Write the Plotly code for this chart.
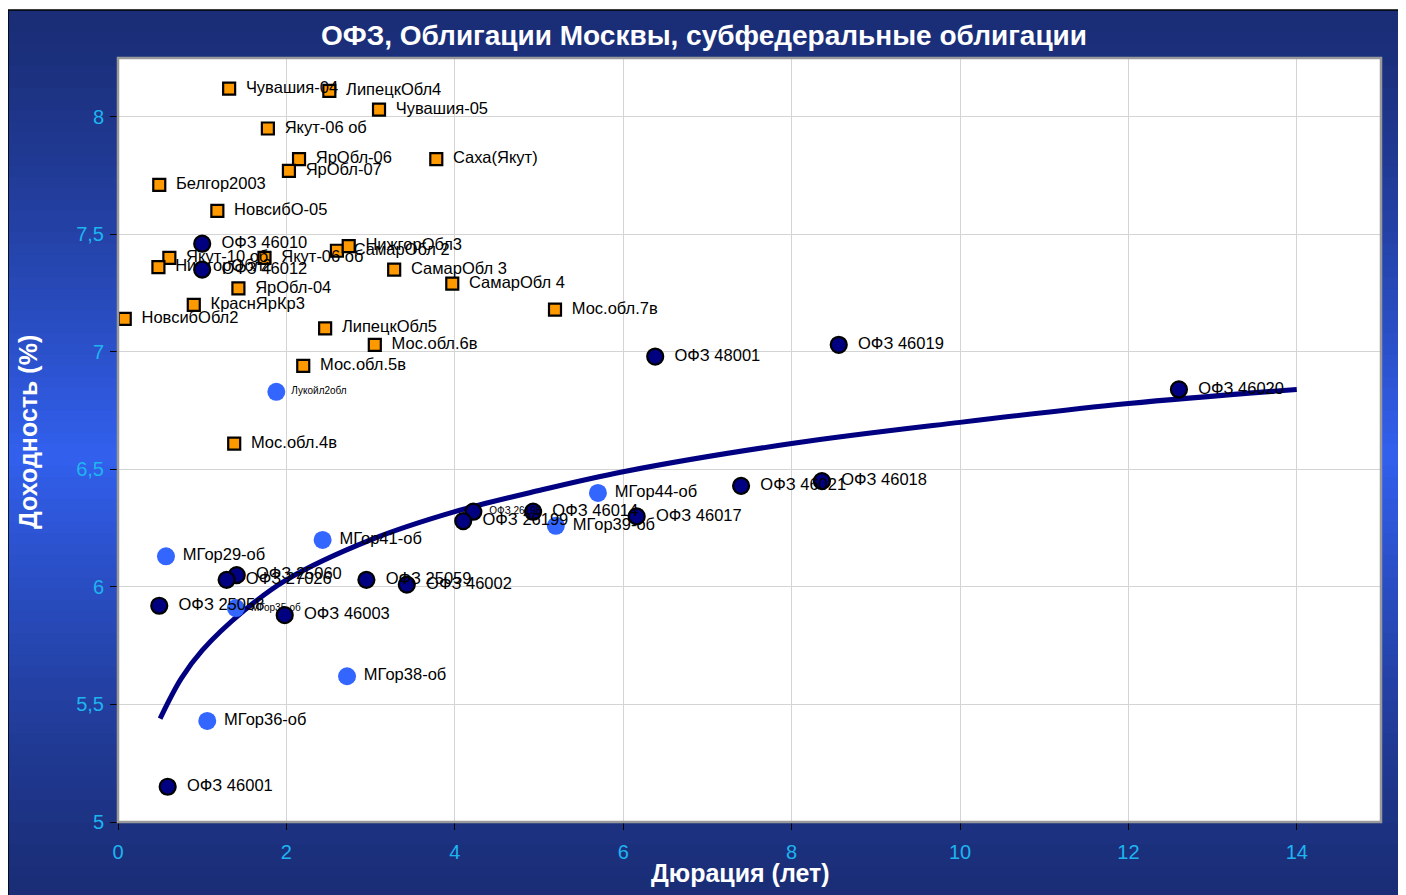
import plotly.graph_objects as go

# ---------------- data ----------------
sub_names = ["Чувашия-04", "ЛипецкОбл4", "Чувашия-05", "Якут-06 об", "ЯрОбл-06", "ЯрОбл-07",
             "Саха(Якут)", "Белгор2003", "НовсибО-05", "Якут-10 об", "НижгорОбл2", "Якут-06 об",
             "СамарОбл 2", "НижгорОбл3", "СамарОбл 3", "СамарОбл 4", "Мос.обл.7в", "ЯрОбл-04",
             "КраснЯрКр3", "НовсибОбл2", "ЛипецкОбл5", "Мос.обл.6в", "Мос.обл.5в", "Мос.обл.4в"]
sub_dur = [1.32, 2.51, 3.10, 1.78, 2.15, 2.03,
           3.78, 0.49, 1.18, 0.61, 0.48, 1.74,
           2.60, 2.74, 3.28, 3.97, 5.19, 1.43,
           0.90, 0.08, 2.46, 3.05, 2.20, 1.38]
sub_yld = [8.12, 8.11, 8.03, 7.95, 7.82, 7.77,
           7.82, 7.71, 7.60, 7.40, 7.36, 7.40,
           7.43, 7.45, 7.35, 7.29, 7.18, 7.27,
           7.20, 7.14, 7.10, 7.03, 6.94, 6.61]

ofz_names = ["ОФЗ 46010", "ОФЗ 46012", "ОФЗ 48001", "ОФЗ 46019", "ОФЗ 46020", "ОФЗ 46021",
             "ОФЗ 46018", "ОФЗ 46017", "ОФЗ 46014", "ОФЗ 26198", "ОФЗ 26199", "ОФЗ 25060",
             "ОФЗ 27026", "ОФЗ 25059", "ОФЗ 46002", "ОФЗ 25058", "ОФЗ 46003", "ОФЗ 46001"]
ofz_dur = [1.00, 1.00, 6.38, 8.56, 12.60, 7.40,
           8.36, 6.16, 4.93, 4.22, 4.10, 1.41,
           1.29, 2.95, 3.43, 0.49, 1.98, 0.59]
ofz_yld = [7.46, 7.35, 6.98, 7.03, 6.84, 6.43,
           6.45, 6.30, 6.32, 6.32, 6.28, 6.05,
           6.03, 6.03, 6.01, 5.92, 5.88, 5.15]
ofz_small = ["ОФЗ 26198"]

mos_names = ["Лукойл2обл", "МГор29-об", "МГор41-об", "МГор35-об", "МГор38-об", "МГор36-об",
             "МГор44-об", "МГор39-об"]
mos_dur = [1.88, 0.57, 2.43, 1.40, 2.72, 1.06, 5.70, 5.20]
mos_yld = [6.83, 6.13, 6.20, 5.91, 5.62, 5.43, 6.40, 6.26]
mos_small = ["Лукойл2обл", "МГор35-об"]

# logarithmic trendline, values
trend_x = [0.5, 0.75, 1, 1.5, 2, 3, 4, 5, 6, 8, 10, 12, 14]
trend_y = [5.44, 5.61, 5.73, 5.90, 6.03, 6.20, 6.32, 6.41, 6.49, 6.61, 6.70, 6.78, 6.84]

x_ticks = [0, 2, 4, 6, 8, 10, 12, 14]
y_ticks = [5, 5.5, 6, 6.5, 7, 7.5, 8]
y_ticktext = ["5", "5,5", "6", "6,5", "7", "7,5", "8"]

title_text = "ОФЗ, Облигации Москвы, субфедеральные облигации"
x_title = "Дюрация (лет)"
y_title = "Доходность (%)"

# ---------------- figure ----------------
FONT = "Arial, 'Liberation Sans', sans-serif"
OFF = 8  # page body margin
W, H = 1406 - OFF, 895 - OFF
ML, MR, MT, MB = 118 - OFF, 25, 58 - OFF, 73
PW, PH = W - ML - MR, H - MT - MB


def px_to_paper_x(p):  # page pixel -> paper
    return (p - OFF - ML) / PW


def px_to_paper_y(p):
    return (H - MB - (p - OFF)) / PH


fig = go.Figure()

fig.add_trace(go.Scatter(x=trend_x, y=trend_y, mode="lines", line=dict(color="#000080", width=5, shape="spline"),
                         hoverinfo="skip"))

fig.add_trace(go.Scatter(
    x=sub_dur, y=sub_yld, mode="markers+text", text=sub_names, textposition="middle right",
    texttemplate="\u2002%{text}",
    textfont=dict(family=FONT, size=16.5, color="black"),
    marker=dict(symbol="square", size=12, color="#FF9900", line=dict(color="black", width=2.2))))

fig.add_trace(go.Scatter(
    x=mos_dur, y=mos_yld, mode="markers+text", text=mos_names, textposition="middle right",
    texttemplate="\u00a0%{text}",
    textfont=dict(family=FONT, size=[10 if n in mos_small else 16.5 for n in mos_names], color="black"),
    marker=dict(symbol="circle", size=18, color="#3366FF", line=dict(width=0))))

fig.add_trace(go.Scatter(
    x=ofz_dur, y=ofz_yld, mode="markers+text", text=ofz_names, textposition="middle right",
    texttemplate="\u2002%{text}",
    textfont=dict(family=FONT, size=[10 if n in ofz_small else 16.5 for n in ofz_names], color="black"),
    marker=dict(symbol="circle", size=16, color="#000080", line=dict(color="black", width=2.2))))

# background frame with vertical gradient
shapes = []
fx0, fx1 = px_to_paper_x(8), px_to_paper_x(1399)
fy_top, fy_bot = px_to_paper_y(10), px_to_paper_y(900)
N = 80
c_edge = (26, 45, 118)
c_mid = (50, 96, 238)
for i in range(N):
    t0 = i / N
    t1 = (i + 1) / N
    tm = (t0 + t1) / 2
    w = max(0.0, 1 - abs(tm - 0.5) / 0.5) ** 1.3
    col = tuple(int(round(c_edge[k] + (c_mid[k] - c_edge[k]) * w)) for k in range(3))
    shapes.append(dict(type="rect", xref="paper", yref="paper", layer="below",
                       x0=fx0, x1=fx1, y0=fy_top - (fy_top - fy_bot) * t1 - 0.002,
                       y1=fy_top - (fy_top - fy_bot) * t0,
                       fillcolor="rgb(%d,%d,%d)" % col, line=dict(width=0)))
shapes.append(dict(type="rect", xref="paper", yref="paper", layer="below",
                   x0=fx0, x1=fx1, y0=fy_bot, y1=fy_top, line=dict(color="black", width=1.5)))
shapes.append(dict(type="rect", xref="paper", yref="paper", layer="below",
                   x0=0, x1=1, y0=0, y1=1, fillcolor="white", line=dict(width=0)))
shapes.append(dict(type="rect", xref="paper", yref="paper", layer="above",
                   x0=0, x1=1, y0=0, y1=1, line=dict(color="#9a9a9a", width=2.5)))

fig.update_layout(
    width=W, height=H,
    margin=dict(l=ML, r=MR, t=MT, b=MB),
    paper_bgcolor="white", plot_bgcolor="white",
    showlegend=False,
    shapes=shapes,
    title=dict(text="<b>" + title_text + "</b>", x=px_to_paper_x(704) * PW / W + ML / W, xanchor="center",
               y=1 - (35 - OFF) / H, yanchor="middle",
               font=dict(family=FONT, size=28, color="white")),
    annotations=[
        dict(text="<b>" + x_title + "</b>", xref="paper", yref="paper", x=px_to_paper_x(740),
             y=px_to_paper_y(873), showarrow=False, font=dict(family=FONT, size=25, color="white"),
             xanchor="center", yanchor="middle"),
        dict(text="<b>" + y_title + "</b>", xref="paper", yref="paper", x=px_to_paper_x(28),
             y=px_to_paper_y(432), showarrow=False, textangle=-90,
             font=dict(family=FONT, size=25, color="white"), xanchor="center", yanchor="middle"),
    ],
    xaxis=dict(range=[0, 15], tickvals=x_ticks, showgrid=True, gridcolor="#d4d4d4", gridwidth=1,
               zeroline=False, showline=False, ticks="outside", ticklen=7, tickcolor="black",
               ticklabelstandoff=5,
               tickfont=dict(family=FONT, size=20, color="#1EB4F0")),
    yaxis=dict(range=[5, 8.25], tickvals=y_ticks, ticktext=y_ticktext, showgrid=True, gridcolor="#d4d4d4",
               gridwidth=1, zeroline=False, showline=False, ticks="outside", ticklen=7, tickcolor="black",
               ticklabelstandoff=2,
               tickfont=dict(family=FONT, size=20, color="#1EB4F0")),
)

fig.write_html("out.html")
